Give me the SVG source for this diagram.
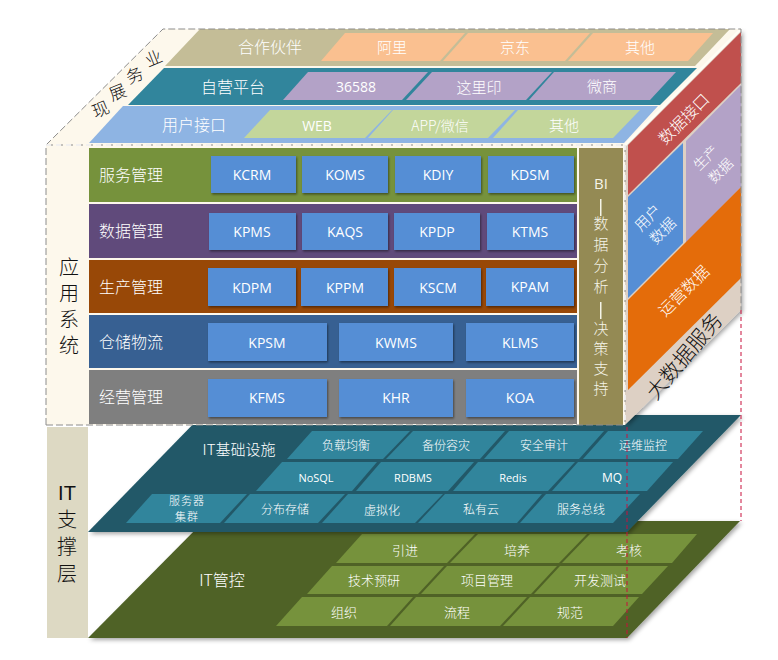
<svg xmlns="http://www.w3.org/2000/svg" width="778" height="660" viewBox="0 0 778 660">
<defs>
<filter id="sh" x="-10%" y="-10%" width="125%" height="125%"><feDropShadow dx="1" dy="1.5" stdDeviation="1.2" flood-color="#000" flood-opacity="0.45"/></filter>
<filter id="shb" x="-5%" y="-5%" width="112%" height="112%"><feDropShadow dx="2" dy="2" stdDeviation="2" flood-color="#000" flood-opacity="0.35"/></filter>
</defs>
<style>
text{font-family:"Noto Sans CJK SC","Liberation Sans",sans-serif;text-anchor:middle;dominant-baseline:central;font-weight:300}
.w{fill:#fff}
.k{fill:#111}
.f16{font-size:16px}
.lat{font-family:"Open Sans","Liberation Sans",sans-serif;font-weight:400}
.en{font-family:"Open Sans","Liberation Sans",sans-serif;font-size:14px;fill:#fff;font-weight:400}
.v{writing-mode:vertical-rl}
.b{fill:#558ed5;filter:url(#sh)}
.or{fill:#fac090}.pu{fill:#b3a2c7}.gr{fill:#c3d69b}.te{fill:#31859c}.ol{fill:#76923c}
.d{fill:none;stroke:#8c8c8c;stroke-width:1;stroke-dasharray:7 3}
.r{fill:none;stroke:#c8103c;stroke-width:1;stroke-dasharray:4 3}
</style>
<rect width="778" height="660" fill="#fff"/>

<g id="it-control">
<polygon points="204,521 740,521 627,638 88,638" fill="#4f6228" filter="url(#shb)"/>
<g class="ol">
<polygon points="362,534 475,534 447,563 336,563"/><polygon points="478,534 587,534 559,563 450,563"/><polygon points="590,534 697,534 672,563 562,563"/>
<polygon points="332,566 444,566 418,594 307,594"/><polygon points="447,566 557,566 531,594 421,594"/><polygon points="560,566 668,566 642,594 534,594"/>
<polygon points="302,597 413,597 387,626 276,626"/><polygon points="416,597 527,597 500,626 390,626"/><polygon points="530,597 639,597 613,626 503,626"/>
</g>
<text class="w" x="222" y="579" style="font-size:16px">IT管控</text>
<g class="w" style="font-size:13px">
<text x="405" y="549">引进</text><text x="517" y="549">培养</text><text x="629" y="549">考核</text>
<text x="374" y="579">技术预研</text><text x="487" y="579">项目管理</text><text x="600" y="579">开发测试</text>
<text x="344" y="611">组织</text><text x="457" y="611">流程</text><text x="570" y="611">规范</text>
</g>
</g>

<g id="it-infra">
<polygon points="202,415 741,415 627,532 88,532" fill="#215968" filter="url(#shb)"/>
<g class="te">
<polygon points="312,431 410,431 383,459 287,459"/><polygon points="413,431 505,431 480,459 386,459"/><polygon points="509,431 604,431 579,459 484,459"/><polygon points="608,431 703,431 678,459 583,459"/>
<polygon points="282,462 377,462 352,491 256,491"/><polygon points="381,462 474,462 448,491 356,491"/><polygon points="478,462 575,462 548,491 453,491"/><polygon points="578,462 673,462 647,491 552,491"/>
<polygon points="152,494 247,494 220,523 126,523"/><polygon points="250,494 345,494 318,523 224,523"/><polygon points="348,494 443,494 415,523 322,523"/><polygon points="445,494 542,494 517,523 418,523"/><polygon points="546,494 640,494 613,523 520,523"/>
</g>
<text class="w" x="239" y="448" style="font-size:15px">IT基础设施</text>
<g class="w" style="font-size:12px">
<text x="346" y="444">负载均衡</text><text x="446" y="444">备份容灾</text><text x="544" y="444">安全审计</text><text x="643" y="444">运维监控</text>
<text class="lat" x="316" y="477" style="font-size:11px">NoSQL</text><text class="lat" x="413" y="477" style="font-size:11px">RDBMS</text><text class="lat" x="513" y="477" style="font-size:11px">Redis</text><text class="lat" x="612" y="477" style="font-size:12px">MQ</text>
<text style="font-size:11px;letter-spacing:1px"><tspan x="187" y="499.5">服务器</tspan><tspan x="187" y="515.5">集群</tspan></text><text x="285" y="508">分布存储</text><text x="382" y="509">虚拟化</text><text x="481" y="508">私有云</text><text x="581" y="508">服务总线</text>
</g>
</g>

<g id="it-label">
<rect x="47" y="427" width="41" height="211" fill="#ddd9c3"/>
<g class="k" style="font-size:20px"><text x="67" y="493" style="font-family:'Liberation Sans',sans-serif;font-weight:400">IT</text><text class="v" x="67" y="550" style="letter-spacing:7px">支撑层</text></g>
</g>

<g id="top-face">
<polygon points="46,145 163,29 741,29 625,145" fill="#fdf8ec"/>
<polygon points="200,29 730,29 695,66 165,66" fill="#c4bd97"/>
<polygon points="164,68 697,68 660,105 128,105" fill="#31859c"/>
<polygon points="123,106 658,106 624,143 89,143" fill="#8eb4e3"/>
<g class="or"><polygon points="345,33 465,33 440,61 321,61"/><polygon points="468,33 590,33 565,61 443,61"/><polygon points="593,33 713,33 688,61 568,61"/></g>
<g class="pu"><polygon points="308,72 428,72 402,100 283,100"/><polygon points="432,72 552,72 526,100 406,100"/><polygon points="554,72 676,72 650,100 529,100"/></g>
<g class="gr"><polygon points="270,110 392,110 365,138 244,138"/><polygon points="393,110 515,110 488,138 368,138"/><polygon points="518,110 640,110 613,138 493,138"/></g>
<g class="w f16"><text x="270" y="46">合作伙伴</text><text x="233" y="86">自营平台</text><text x="194" y="124">用户接口</text></g>
<g class="w" style="font-size:15px">
<text x="392" y="46">阿里</text><text x="515" y="46">京东</text><text x="640" y="46">其他</text>
<text class="lat" x="356" y="86" style="font-size:14px">36588</text><text x="479" y="86">这里印</text><text x="602" y="85">微商</text>
<text class="lat" x="317" y="125" style="font-size:14px">WEB</text><text x="440" y="125" style="font-size:14px">APP/微信</text><text x="564" y="124">其他</text>
</g>
<g class="k" style="font-size:17px">
<text transform="translate(153,57) rotate(-22)">业</text>
<text transform="translate(134,74) rotate(-22)">务</text>
<text transform="translate(117,91) rotate(-22)">展</text>
<text transform="translate(100,108) rotate(-22)">现</text>
</g>
</g>

<g id="side-face">
<polygon points="625,145 741,29 741,310 625,425" fill="#ddd0c4" filter="url(#shb)"/>
<polygon points="628,145 741,32 741,83 628,195" fill="#c0504d"/>
<polygon points="628,197 683,143 683,243 628,298" fill="#558ed5"/>
<polygon points="686,141 741,85 741,187 686,243" fill="#b3a2c7"/>
<polygon points="628,300 741,187 741,278 628,390" fill="#e46c0a"/>
<g class="w">
<text transform="translate(683,118) rotate(-45)" style="font-size:16px">数据接口</text>
<text transform="translate(705,157) rotate(-45)" style="font-size:14px">生产</text>
<text transform="translate(720,170) rotate(-45)" style="font-size:14px">数据</text>
<text transform="translate(647,217) rotate(-45)" style="font-size:15px">用户</text>
<text transform="translate(662,230) rotate(-45)" style="font-size:15px">数据</text>
<text transform="translate(683,290) rotate(-45)" style="font-size:16px">运营数据</text>
</g>
<text class="k" transform="translate(683,355) rotate(-50)" style="font-size:21px">大数据服务</text>
</g>

<g id="front-face">
<rect x="46" y="145" width="579" height="280" fill="#fdf8ec"/>
<text class="k v" x="69" y="309" style="font-size:20px;letter-spacing:6px">应用系统</text>
</g>

<g id="row-service">
<rect x="89" y="148" width="488" height="54" fill="#76923c"/>
<text class="w f16" x="131" y="174">服务管理</text>
<rect class="b" x="211" y="156" width="85" height="37"/><rect class="b" x="302" y="156" width="86" height="37"/><rect class="b" x="395" y="156" width="86" height="37"/><rect class="b" x="488" y="156" width="86" height="37"/>
<text class="en" x="252" y="174">KCRM</text><text class="en" x="345" y="174">KOMS</text><text class="en" x="438" y="174">KDIY</text><text class="en" x="530" y="174">KDSM</text>
</g>
<g id="row-data">
<rect x="89" y="204" width="488" height="54" fill="#604a7b"/>
<text class="w f16" x="131" y="230">数据管理</text>
<rect class="b" x="209" y="213" width="87" height="37"/><rect class="b" x="302" y="213" width="86" height="37"/><rect class="b" x="394" y="213" width="86" height="37"/><rect class="b" x="487" y="213" width="87" height="37"/>
<text class="en" x="252" y="231">KPMS</text><text class="en" x="345" y="231">KAQS</text><text class="en" x="437" y="231">KPDP</text><text class="en" x="530" y="231">KTMS</text>
</g>
<g id="row-production">
<rect x="89" y="260" width="488" height="53" fill="#984807"/>
<text class="w f16" x="131" y="286">生产管理</text>
<rect class="b" x="208" y="268" width="88" height="38"/><rect class="b" x="301" y="268" width="87" height="38"/><rect class="b" x="394" y="268" width="87" height="38"/><rect class="b" x="486" y="268" width="88" height="38"/>
<text class="en" x="252" y="287">KDPM</text><text class="en" x="345" y="287">KPPM</text><text class="en" x="438" y="287">KSCM</text><text class="en" x="530" y="286">KPAM</text>
</g>
<g id="row-warehouse">
<rect x="89" y="315" width="488" height="53" fill="#376092"/>
<text class="w f16" x="131" y="341">仓储物流</text>
<rect class="b" x="208" y="323" width="119" height="38"/><rect class="b" x="339" y="323" width="114" height="38"/><rect class="b" x="466" y="323" width="108" height="38"/>
<text class="en" x="267" y="342">KPSM</text><text class="en" x="396" y="342">KWMS</text><text class="en" x="520" y="342">KLMS</text>
</g>
<g id="row-operation">
<rect x="89" y="370" width="488" height="54" fill="#7f7f7f"/>
<text class="w f16" x="131" y="396">经营管理</text>
<rect class="b" x="208" y="379" width="119" height="38"/><rect class="b" x="339" y="379" width="114" height="38"/><rect class="b" x="466" y="379" width="108" height="38"/>
<text class="en" x="267" y="397">KFMS</text><text class="en" x="396" y="397">KHR</text><text class="en" x="520" y="397">KOA</text>
</g>
<g id="bi-bar">
<rect x="579" y="148" width="44" height="277" fill="#948a54"/>
<g fill="#f4f4e8" style="font-size:15px">
<text class="lat" x="601" y="183" style="font-size:15px">BI</text>
<rect x="600" y="199" width="1.5" height="17"/>
<text class="v" x="601" y="258" style="letter-spacing:6px">数据分析</text>
<rect x="600" y="302" width="1.5" height="17"/>
<text class="v" x="601" y="361" style="letter-spacing:5px">决策支持</text>
</g>
</g>

<g id="connectors">
<path d="M625,145L741,29" fill="none" stroke="#fffdf4" stroke-width="3"/>
<path class="d" d="M46,425V145L163,29H741V310"/>
<path class="d" d="M46,145H625M625,145V425M46,425H625"/>
<path d="M625,145V425M46,145H625" fill="none" stroke="#fff" stroke-width="1.5" stroke-dasharray="5 5"/>
<path class="r" d="M627,427V638M741,310V521"/>
</g>
</svg>
